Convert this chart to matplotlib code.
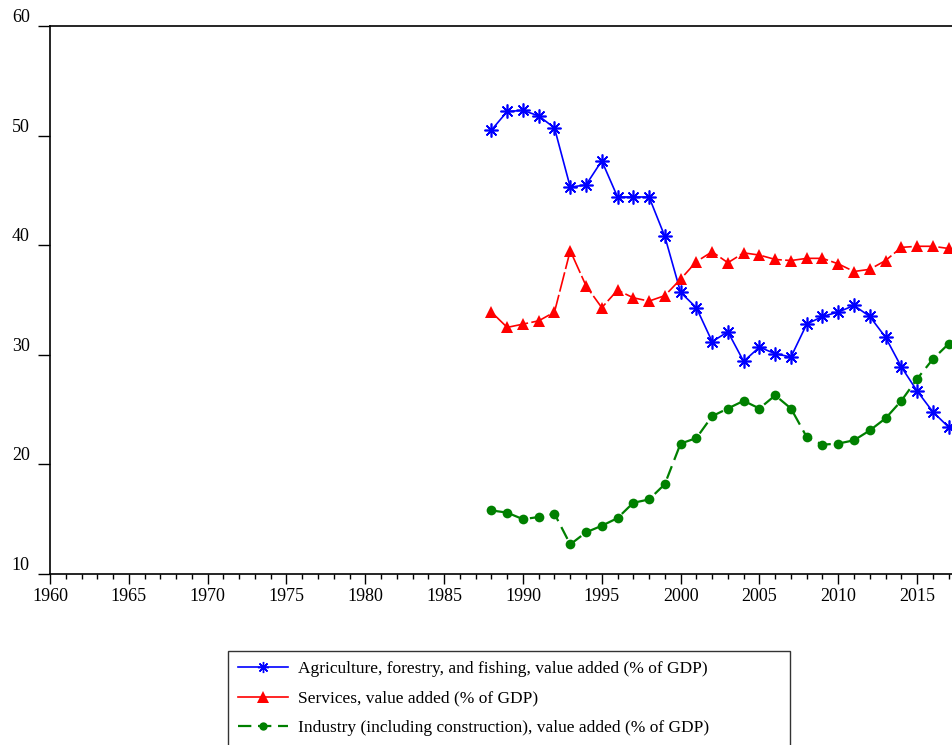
import matplotlib.pyplot as plt
from matplotlib.ticker import MultipleLocator
from matplotlib.lines import Line2D

years = list(range(1988, 2018))

agriculture = [50.5, 52.2, 52.3, 51.8, 50.7, 45.3, 45.5, 47.7, 44.4, 44.4,
               44.4, 40.8, 35.7, 34.3, 31.2, 32.1, 29.4, 30.7, 30.1, 29.8,
               32.8, 33.5, 33.9, 34.5, 33.5, 31.6, 28.9, 26.7, 24.8, 23.4]
services = [33.9, 32.5, 32.8, 33.1, 33.9, 39.5, 36.3, 34.3, 35.9, 35.2,
            34.9, 35.4, 36.9, 38.5, 39.4, 38.4, 39.3, 39.1, 38.7, 38.6,
            38.8, 38.8, 38.3, 37.6, 37.8, 38.6, 39.8, 39.9, 39.9, 39.7]
industry = [15.8, 15.6, 15.0, 15.2, 15.5, 12.7, 13.8, 14.4, 15.1, 16.5,
            16.8, 18.2, 21.9, 22.4, 24.4, 25.1, 25.8, 25.1, 26.3, 25.1,
            22.5, 21.8, 21.9, 22.2, 23.1, 24.2, 25.8, 27.8, 29.6, 31.0]

labels = [
    "Agriculture, forestry, and fishing, value added (% of GDP)",
    "Services, value added (% of GDP)",
    "Industry (including construction), value added (% of GDP)",
]

plt.rcParams["font.family"] = ["Liberation Serif", "DejaVu Serif"]
plt.rcParams["font.size"] = 13

W, H = 953, 745
fig = plt.figure(figsize=(W / 100, H / 100), dpi=100)
ax = fig.add_axes([50 / W, 1 - 574 / H, 1 - 50 / W + 0.002, (574 - 26) / H])

ax.plot(years, agriculture, color="#0000ff", lw=1.2, marker=(8, 2, 0),
        markersize=10, markeredgewidth=1.2)
ax.plot(years, services, color="#ff0000", lw=1.2, dashes=[12, 2], marker="^",
        markersize=9, markeredgewidth=0)
ax.plot(years, industry, color="#008000", lw=1.6, dashes=[6, 3], marker="o",
        markersize=7, markeredgewidth=0)

ax.set_xlim(1960, 2017.4)
ax.set_ylim(10, 60)
ax.xaxis.set_major_locator(MultipleLocator(5))
ax.xaxis.set_minor_locator(MultipleLocator(1))
ax.yaxis.set_major_locator(MultipleLocator(10))

ax.spines["right"].set_visible(False)
for s in ["top", "left", "bottom"]:
    ax.spines[s].set_linewidth(1.2)

ax.tick_params(axis="x", which="major", direction="out", length=7.2, width=1, pad=3)
ax.tick_params(axis="x", which="minor", direction="out", length=3.6, width=1)
ax.tick_params(axis="y", which="major", direction="out", length=8.5, width=1, pad=6)
for lbl in ax.get_yticklabels():
    lbl.set_va("bottom")

handles = [
    Line2D([], [], color="#0000ff", lw=1.2, marker=(8, 2, 0), markersize=8),
    Line2D([], [], color="#ff0000", lw=1.2, marker="^", markersize=8, markeredgewidth=0),
    Line2D([], [], color="#008000", lw=1.6, dashes=[6, 3], marker="o",
           markersize=6, markeredgewidth=0),
]
leg = fig.legend(handles, labels, loc="upper left", mode="expand",
                 bbox_to_anchor=(228 / W, 1 - 652 / H, (790 - 228) / W, 0.001),
                 frameon=True, fancybox=False, edgecolor="black", fontsize=12.5,
                 handlelength=2.9, handletextpad=0.6, borderpad=0.55,
                 borderaxespad=0, labelspacing=0.78)
leg.get_frame().set_linewidth(1)

fig.savefig("out.png", dpi=100)
